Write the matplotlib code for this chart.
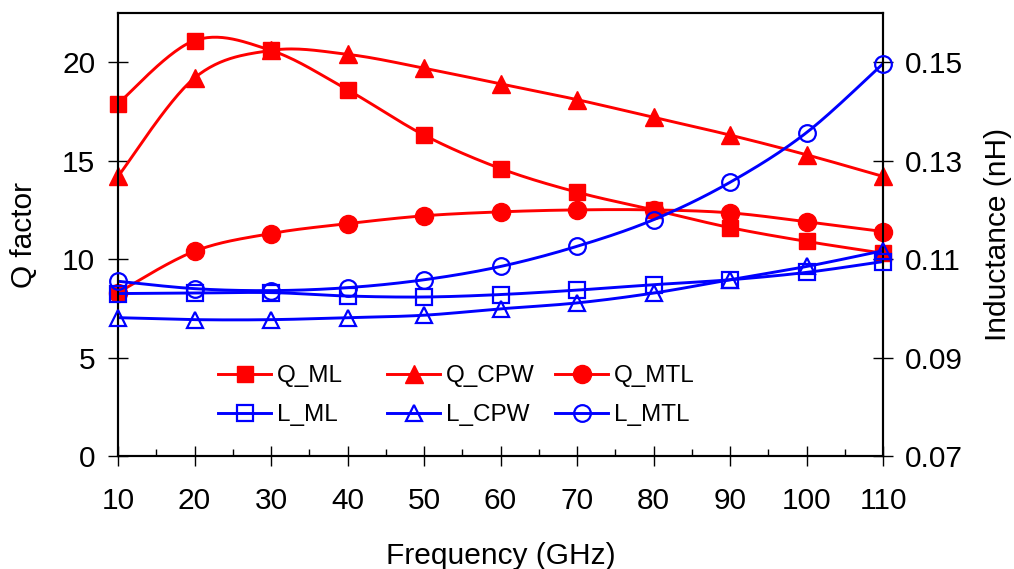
import numpy as np
import matplotlib
matplotlib.use("Agg")
import matplotlib.pyplot as plt
from matplotlib.ticker import FormatStrFormatter, MultipleLocator

plt.rcParams['font.family'] = ['Liberation Sans', 'DejaVu Sans']

freq = [10, 20, 30, 40, 50, 60, 70, 80, 90, 100, 110]
Q_ML = [17.9, 21.1, 20.6, 18.6, 16.3, 14.6, 13.4, 12.5, 11.6, 10.9, 10.3]
Q_CPW = [14.2, 19.2, 20.6, 20.4, 19.7, 18.9, 18.1, 17.2, 16.3, 15.3, 14.2]
Q_MTL = [8.3, 10.4, 11.3, 11.8, 12.2, 12.4, 12.5, 12.5, 12.35, 11.9, 11.4]
L_ML = [0.1030, 0.1031, 0.1032, 0.1025, 0.1023, 0.1028, 0.1037, 0.1048, 0.1058, 0.1073, 0.1095]
L_CPW = [0.0981, 0.0977, 0.0977, 0.0981, 0.0986, 0.0999, 0.1011, 0.1031, 0.1058, 0.1085, 0.1117]
L_MTL = [0.1055, 0.1040, 0.1036, 0.1042, 0.1058, 0.1085, 0.1126, 0.1180, 0.1256, 0.1357, 0.1497]

RED = '#FF0000'
BLUE = '#0000FF'


def smooth(x, y, n=30):
    """Catmull-Rom style smoothing (as in spreadsheet 'smoothed line')."""
    x = np.asarray(x, float)
    y = np.asarray(y, float)
    px = np.concatenate([[x[0]], x, [x[-1]]])
    py = np.concatenate([[y[0]], y, [y[-1]]])
    xs, ys = [], []
    t = np.linspace(0, 1, n, endpoint=False)
    for i in range(1, len(px) - 2):
        p0x, p1x, p2x, p3x = px[i - 1], px[i], px[i + 1], px[i + 2]
        p0y, p1y, p2y, p3y = py[i - 1], py[i], py[i + 1], py[i + 2]
        c1x, c1y = p1x + (p2x - p0x) / 6, p1y + (p2y - p0y) / 6
        c2x, c2y = p2x - (p3x - p1x) / 6, p2y - (p3y - p1y) / 6
        b0 = (1 - t) ** 3
        b1 = 3 * (1 - t) ** 2 * t
        b2 = 3 * (1 - t) * t ** 2
        b3 = t ** 3
        xs.append(b0 * p1x + b1 * c1x + b2 * c2x + b3 * p2x)
        ys.append(b0 * p1y + b1 * c1y + b2 * c2y + b3 * p2y)
    xs.append([x[-1]])
    ys.append([y[-1]])
    return np.concatenate(xs), np.concatenate(ys)


W, H = 1014, 569
fig = plt.figure(figsize=(W / 100, H / 100), dpi=100)
L, R, T, B = 118, 883, 13, 456
ax = fig.add_axes([L / W, 1 - B / H, (R - L) / W, (B - T) / H])
ax2 = ax.twinx()

lw = 2.1
series_q = [(Q_ML, 's', 11, 'Q_ML'), (Q_CPW, '^', 13, 'Q_CPW'), (Q_MTL, 'o', 13, 'Q_MTL')]
series_l = [(L_ML, 's', 11, 'L_ML'), (L_CPW, '^', 12, 'L_CPW'), (L_MTL, 'o', 12, 'L_MTL')]

handles_q, handles_l = [], []
for ys, m, ms, lab in series_q:
    sx, sy = smooth(freq, ys)
    ax.plot(sx, sy, color=RED, lw=lw, zorder=2)
    ax.plot(freq, ys, ls='none', marker=m, ms=ms, color=RED, mec=RED, clip_on=False, zorder=3)
    h, = ax.plot([], [], color=RED, lw=lw, marker=m, ms=ms, mec=RED, label=lab)
    handles_q.append(h)

for ys, m, ms, lab in series_l:
    sx, sy = smooth(freq, ys)
    ax2.plot(sx, sy, color=BLUE, lw=lw, zorder=2)
    ax2.plot(freq, ys, ls='none', marker=m, ms=ms, mfc='none', mec=BLUE, mew=1.6,
             clip_on=False, zorder=3)
    h, = ax2.plot([], [], color=BLUE, lw=lw, marker=m, ms=ms, mfc='none', mec=BLUE,
                  mew=1.6, label=lab)
    handles_l.append(h)

ax.set_xlim(10, 110)
ax.set_ylim(0, 22.5)
ax2.set_ylim(0.07, 0.16)

ax.set_xticks(freq)
ax.xaxis.set_minor_locator(MultipleLocator(5))
ax.set_yticks([0, 5, 10, 15, 20])
ax2.set_yticks([0.07, 0.09, 0.11, 0.13, 0.15])
ax2.yaxis.set_major_formatter(FormatStrFormatter('%.2f'))

fs = 21.5
ax.tick_params(axis='x', which='major', direction='inout', length=14, width=1,
               labelsize=fs, pad=15.5)
ax.tick_params(axis='x', which='minor', direction='in', length=5, width=1)
ax.tick_params(axis='y', which='major', direction='inout', length=14, width=1,
               labelsize=fs, pad=9.4)
ax2.tick_params(axis='y', which='major', direction='inout', length=14, width=1,
                labelsize=fs, pad=8.6)

for a in (ax, ax2):
    for s in a.spines.values():
        s.set_linewidth(1.5)
        s.set_color('black')

ax.set_xlabel('Frequency (GHz)', fontsize=fs, labelpad=19)
ax.set_ylabel('Q factor', fontsize=fs, labelpad=17)
ax2.set_ylabel('Inductance (nH)', fontsize=fs, labelpad=15.5)

# Legend: three columns, each a two-row legend
col_x = [218, 387, 555]
top_y = 365
lfs = 17.5
for i in range(3):
    leg = fig.legend(handles=[handles_q[i], handles_l[i]], loc='upper left',
                     bbox_to_anchor=(col_x[i] / W, 1 - top_y / H), frameon=False,
                     fontsize=lfs, handlelength=2.2, handletextpad=0.22,
                     labelspacing=0.7, borderpad=0, borderaxespad=0, numpoints=1)

fig.savefig('out.png', dpi=100)
